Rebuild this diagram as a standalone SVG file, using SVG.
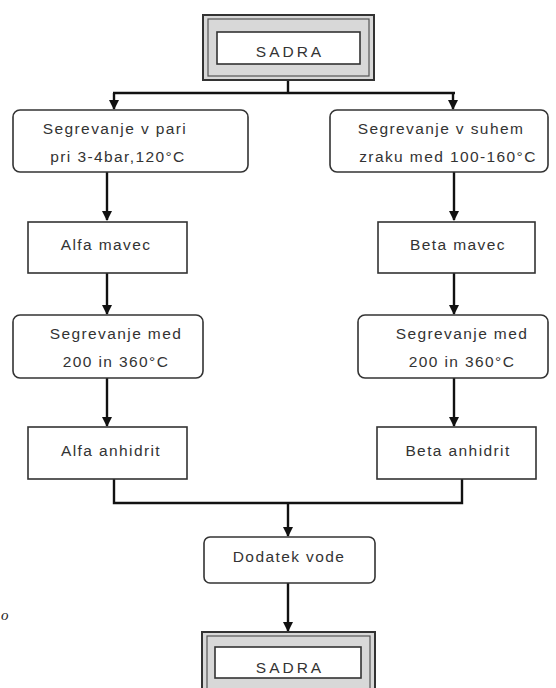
<svg xmlns="http://www.w3.org/2000/svg" width="556" height="688" viewBox="0 0 556 688">
<style>
.box{fill:#fff;stroke:#333;stroke-width:1.6}
.t{font-family:"Liberation Sans",Arial,sans-serif;font-size:15.5px;letter-spacing:1.4px;fill:#333;text-anchor:middle}
.cap{letter-spacing:3px}
.c{fill:none;stroke:#111;stroke-width:2.4}
.frame{fill:#d8d8d8;stroke:#333;stroke-width:2}
.frame2{fill:none;stroke:#555;stroke-width:1.2}
</style>
<defs>
<marker id="ah" viewBox="0 0 10 10" refX="9" refY="5" markerWidth="4.2" markerHeight="4.2" orient="auto" markerUnits="strokeWidth">
<path d="M0,0 L10,5 L0,10 z" fill="#111"/>
</marker>
</defs>
<rect width="556" height="688" fill="#fff"/>
<g id="connectors">
<path class="c" d="M288,80 V93"/>
<path class="c" d="M113,93 H455"/>
<path class="c" d="M114,93 V109" marker-end="url(#ah)"/>
<path class="c" d="M453,93 V109" marker-end="url(#ah)"/>
<path class="c" d="M107,172 V220" marker-end="url(#ah)"/>
<path class="c" d="M454,172 V220" marker-end="url(#ah)"/>
<path class="c" d="M107,273 V314" marker-end="url(#ah)"/>
<path class="c" d="M454,273 V314" marker-end="url(#ah)"/>
<path class="c" d="M107,378 V426" marker-end="url(#ah)"/>
<path class="c" d="M454,378 V426" marker-end="url(#ah)"/>
<path class="c" d="M114,479 V503 H462 V479"/>
<path class="c" d="M288,503 V536" marker-end="url(#ah)"/>
<path class="c" d="M288,583 V631" marker-end="url(#ah)"/>
</g>
<g id="sadra-top">
<rect class="frame" x="203" y="15" width="171" height="65"/>
<rect class="frame2" x="208" y="19" width="161" height="57"/>
<rect class="box" x="217" y="32" width="143" height="32"/>
<text class="t cap" x="290" y="57">SADRA</text>
</g>
<g id="seg-para">
<rect class="box" x="13" y="110" width="235" height="62" rx="7"/>
<text class="t" x="115" y="134">Segrevanje v pari</text>
<text class="t" x="118" y="162">pri 3-4bar,120°C</text>
</g>
<g id="seg-zrak">
<rect class="box" x="330" y="110" width="218" height="62" rx="7"/>
<text class="t" x="441" y="134">Segrevanje v suhem</text>
<text class="t" x="448" y="162">zraku med 100-160°C</text>
</g>
<g id="alfa-mavec">
<rect class="box" x="28" y="222" width="159" height="51"/>
<text class="t" x="106" y="250">Alfa mavec</text>
</g>
<g id="beta-mavec">
<rect class="box" x="378" y="222" width="157" height="51"/>
<text class="t" x="458" y="250">Beta mavec</text>
</g>
<g id="seg-med-l">
<rect class="box" x="13" y="315" width="190" height="63" rx="7"/>
<text class="t" x="116" y="339">Segrevanje med</text>
<text class="t" x="116" y="367">200 in 360°C</text>
</g>
<g id="seg-med-r">
<rect class="box" x="358" y="315" width="190" height="63" rx="7"/>
<text class="t" x="462" y="339">Segrevanje med</text>
<text class="t" x="462" y="367">200 in 360°C</text>
</g>
<g id="alfa-anhidrit">
<rect class="box" x="28" y="427" width="159" height="52"/>
<text class="t" x="111" y="456">Alfa anhidrit</text>
</g>
<g id="beta-anhidrit">
<rect class="box" x="377" y="427" width="159" height="52"/>
<text class="t" x="458" y="456">Beta anhidrit</text>
</g>
<g id="dodatek">
<rect class="box" x="204" y="537" width="171" height="46" rx="6"/>
<text class="t" x="289" y="562">Dodatek vode</text>
</g>
<g id="sadra-bottom">
<rect class="frame" x="202" y="632" width="173" height="62"/>
<rect class="frame2" x="207" y="636" width="163" height="58"/>
<rect class="box" x="215" y="647" width="146" height="31"/>
<text class="t cap" x="290" y="673">SADRA</text>
</g>
<text x="1" y="620" style="font-family:'Liberation Serif',serif;font-style:italic;font-size:15px;fill:#222">o</text>
</svg>
